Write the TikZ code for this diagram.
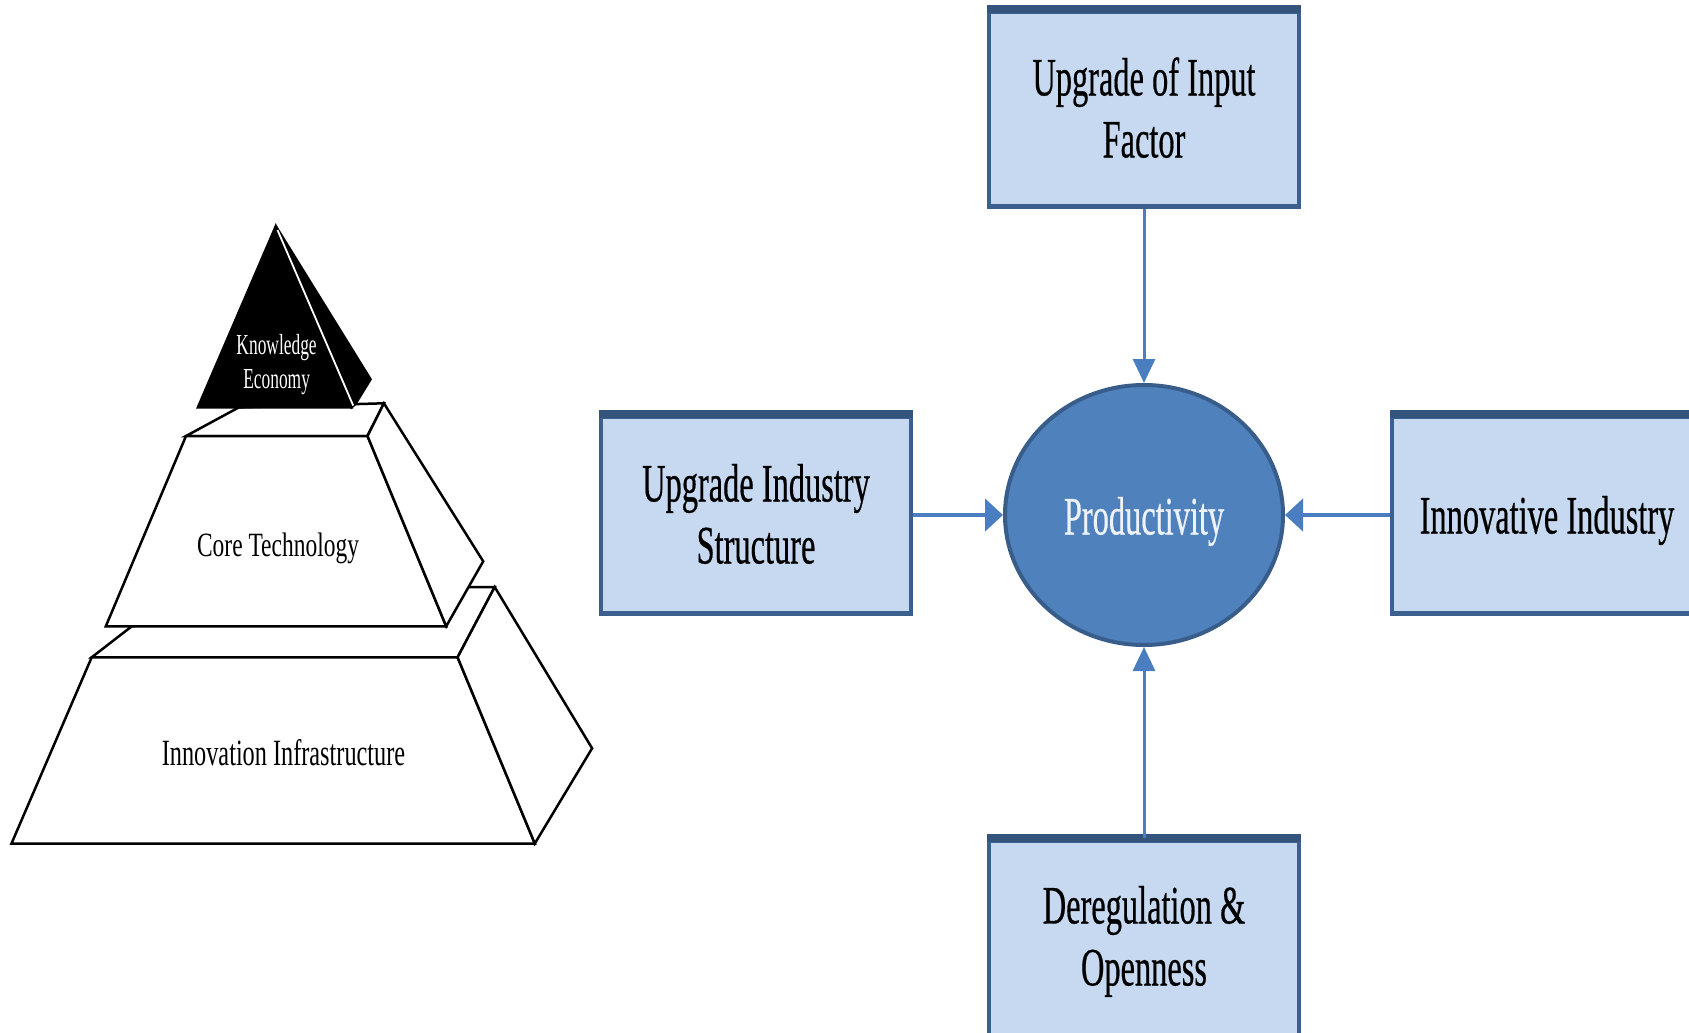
\documentclass[tikz,border=0pt]{standalone}
\usepackage{fontspec}
\setmainfont{Liberation Serif}
\newfontfamily\heavyserif[FakeBold=0.6]{Liberation Serif}
\usetikzlibrary{arrows.meta,shapes.geometric}

\definecolor{boxfill}{RGB}{198,217,241}
\definecolor{boxedge}{RGB}{60,96,142}
\definecolor{boxtop}{RGB}{52,84,126}
\definecolor{ovalfill}{RGB}{79,129,189}
\definecolor{ovaledge}{RGB}{56,93,138}
\definecolor{arrowblue}{RGB}{74,126,193}
\definecolor{ovaltext}{RGB}{238,243,250}

% condensed, centred multi-line label, lowered by #1 without changing its bounds
\newcommand{\narrowtext}[3]{\raisebox{-#1}[\height][\depth]{\scalebox{#2}[1]{\begin{tabular}{@{}c@{}}#3\end{tabular}}}}

\begin{document}
\begin{tikzpicture}[x=1pt,y=-1pt,
  factor/.style={draw=boxedge, line width=4.5pt, fill=boxfill,
    minimum width=310pt, minimum height=197pt, inner sep=0pt,
    font=\heavyserif\fontsize{54}{62}\selectfont},
  hub/.style={ellipse, draw=ovaledge, line width=4pt, fill=ovalfill,
    minimum width=278pt, minimum height=260pt, inner sep=0pt,
    text=ovaltext, font=\heavyserif\fontsize{54}{62}\selectfont},
  vfeed/.style={draw=arrowblue, line width=3pt,
    -{Triangle[length=24pt,width=22pt]}},
  hfeed/.style={draw=arrowblue, line width=4.5pt,
    -{Triangle[length=18pt,width=32pt]}},
  face/.style={draw=black, line width=2.5pt, fill=white, line join=miter},
  darkface/.style={draw=black, line width=2.5pt, fill=black, line join=miter},
  tiertext/.style={inner sep=0pt}
]
\useasboundingbox (0,0) rectangle (1689,1033);
\clip (0,0) rectangle (1689,1033);

% ---------- pyramid: bottom tier ----------
\draw[face] (91.7,657.3) -- (131.8,626.3) -- (468.7,587) -- (494.7,587) -- (457.6,657.3) -- cycle;
\draw[face] (91.7,657.3) -- (457.6,657.3) -- (534.8,843.5) -- (11.5,843.5) -- cycle;
\draw[face] (457.6,657.3) -- (494.7,587) -- (592.1,748.3) -- (534.8,843.5) -- cycle;

% ---------- pyramid: middle tier ----------
\draw[face] (186,436) -- (238.8,407.4) -- (383.9,403.3) -- (367.5,436) -- cycle;
\draw[face] (186,436) -- (367.5,436) -- (446.2,626.3) -- (105.8,626.3) -- cycle;
\draw[face] (367.5,436) -- (383.9,403.3) -- (483.2,561.3) -- (446.2,626.3) -- cycle;

% ---------- pyramid: apex ----------
\draw[darkface] (275.8,226.2) -- (370.5,379.3) -- (355.3,404.1) -- (351.4,407.4) -- cycle;
\draw[darkface] (275.8,226.2) -- (351.4,407.4) -- (197.9,407.4) -- cycle;
\draw[white, line width=1.8pt] (277.5,230) -- (353.2,405.5);

\node[tiertext, text=white, font=\fontsize{29}{34}\selectfont] (ke) at (276.6,365)
  {\narrowtext{0pt}{0.6}{Knowledge\\Economy}};
\node[tiertext, font=\fontsize{34}{40}\selectfont] (ct) at (278,548)
  {\narrowtext{0pt}{0.69}{Core Technology}};
\node[tiertext, font=\fontsize{37}{44}\selectfont] (ii) at (283.5,757)
  {\narrowtext{0pt}{0.656}{Innovation Infrastructure}};

% ---------- productivity diagram ----------
\node[hub] (prod) at (1144,515) {\narrowtext{7pt}{0.6}{Productivity}};

\node[factor, minimum height=195pt] (input) at (1144,109) {\narrowtext{5pt}{0.6}{Upgrade of Input\\Factor}};
\node[factor] (struct) at (756,515) {\narrowtext{5pt}{0.6}{Upgrade Industry\\Structure}};
\node[factor] (innov) at (1547,515) {\narrowtext{6pt}{0.6}{Innovative Industry}};
\node[factor] (dereg) at (1144,939) {\narrowtext{3pt}{0.6}{Deregulation \&\\Openness}};

% heavier top rims of the boxes
\foreach \b in {input,struct,innov,dereg}
  \draw[boxtop, line width=8pt] (\b.north west) -- (\b.north east);

\draw[vfeed] (input.south) -- (prod.north);
\draw[vfeed] (dereg.north) -- (prod.south);
\draw[hfeed] (struct.east) -- (prod.west);
\draw[hfeed] (innov.west) -- (prod.east);
\end{tikzpicture}
\end{document}
